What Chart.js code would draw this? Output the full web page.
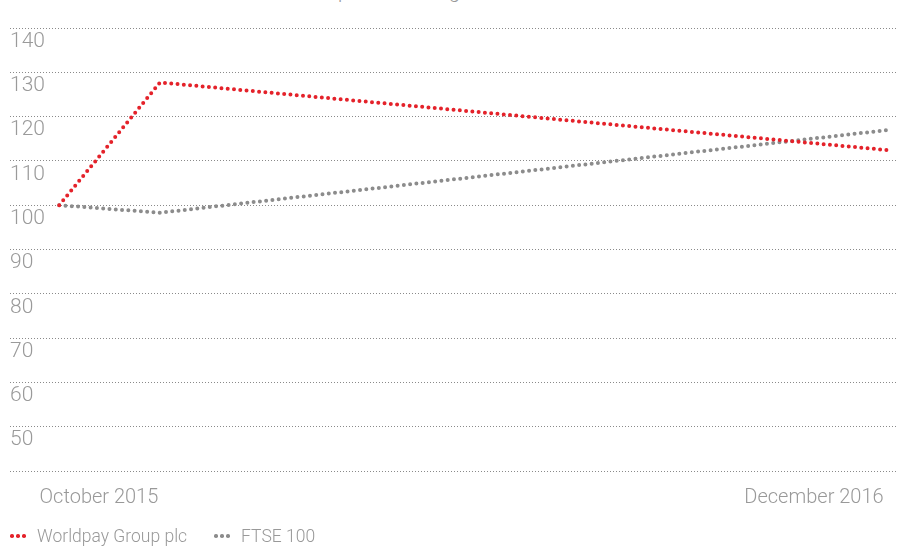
<!DOCTYPE html>
<html>
<head>
<meta charset="utf-8">
<script src="https://cdn.jsdelivr.net/npm/chart.js@4.4.1/dist/chart.umd.min.js"></script>
<style>
  html, body { margin: 0; padding: 0; background: #fff; overflow: hidden; }
  #wrap { position: relative; width: 902px; height: 547px; font-family: Roboto, sans-serif; font-weight: 300; color: #999; }
  #title { position: absolute; left: 26px; top: -21px; font-size: 20px; white-space: nowrap; }
  #chart { position: absolute; left: 0; top: 0; }
  #legend { position: absolute; left: 10px; top: 526px; font-size: 17.5px; display: flex; align-items: center; white-space: nowrap; }
  .item { display: flex; align-items: center; margin-right: 27px; }
  .dots { display: inline-flex; margin-right: 9px; }
  .dots i { width: 3.5px; height: 3.5px; border-radius: 50%; margin-right: 2.5px; display: block; }
</style>
</head>
<body>
<div id="wrap">
  <div id="title">Value of £100 invested at the share price at listing on 13 October 2015</div>
  <canvas id="chart" width="902" height="547"></canvas>
  <div id="legend"></div>
</div>
<script>
// ---- data ----
const seriesNames = ["Worldpay Group plc", "FTSE 100"];
const seriesColors = ["#e4222a", "#8c8c8c"];
const monthsFromListing = [0, 1.7, 14];     // x position of each point
const worldpay = [100, 127.7, 112.4];
const ftse100 = [100, 98.3, 117.0];
const xTickLabels = ["October 2015", "December 2016"];
const yTickValues = [140, 130, 120, 110, 100, 90, 80, 70, 60, 50];

const toPoints = arr => arr.map((v, i) => ({ x: monthsFromListing[i], y: v }));

const dotted = color => ({
  borderColor: color,
  backgroundColor: color,
  borderWidth: 4,
  borderDash: [0, 6.3],
  borderCapStyle: "round",
  pointRadius: 0,
  tension: 0,
  fill: false,
});

Chart.defaults.font.family = "Roboto, sans-serif";
Chart.defaults.font.weight = 300;

new Chart(document.getElementById("chart"), {
  type: "line",
  data: {
    datasets: [
      { label: seriesNames[0], data: toPoints(worldpay), ...dotted(seriesColors[0]) },
      { label: seriesNames[1], data: toPoints(ftse100), ...dotted(seriesColors[1]) },
    ],
  },
  options: {
    responsive: false,
    animation: false,
    devicePixelRatio: 1,
    layout: { padding: { top: 28, left: 10, right: 5, bottom: 30 } },
    plugins: { legend: { display: false }, tooltip: { enabled: false } },
    scales: {
      x: {
        type: "linear",
        min: -0.83,
        max: 14.13,
        grid: { display: false },
        border: { display: false },
        afterBuildTicks: axis => { axis.ticks = [{ value: 0.67 }, { value: 12.73 }]; },
        ticks: {
          autoSkip: false,
          maxRotation: 0,
          padding: 7,
          color: "#999",
          font: { size: 20, weight: 300 },
          callback: (v, i) => xTickLabels[i],
        },
      },
      y: {
        min: 40,
        max: 140,
        afterBuildTicks: axis => { axis.ticks = [...yTickValues, 40].map(v => ({ value: v })); },
        grid: { color: "#8a8a8a", lineWidth: 1, drawTicks: false, tickLength: 0 },
        border: { display: false, dash: [1, 2] },
        ticks: {
          mirror: true,
          padding: 0,
          labelOffset: 13.5,
          color: "#9a9a9a",
          font: { size: 21, weight: 300 },
          callback: v => (yTickValues.includes(v) ? v : ""),
        },
      },
    },
  },
});

// legend with three-dot swatches
const legend = document.getElementById("legend");
seriesNames.forEach((name, i) => {
  const item = document.createElement("span");
  item.className = "item";
  const dots = document.createElement("span");
  dots.className = "dots";
  for (let k = 0; k < 3; k++) {
    const d = document.createElement("i");
    d.style.background = seriesColors[i];
    dots.appendChild(d);
  }
  item.appendChild(dots);
  item.appendChild(document.createTextNode(name));
  legend.appendChild(item);
});
</script>
</body>
</html>
